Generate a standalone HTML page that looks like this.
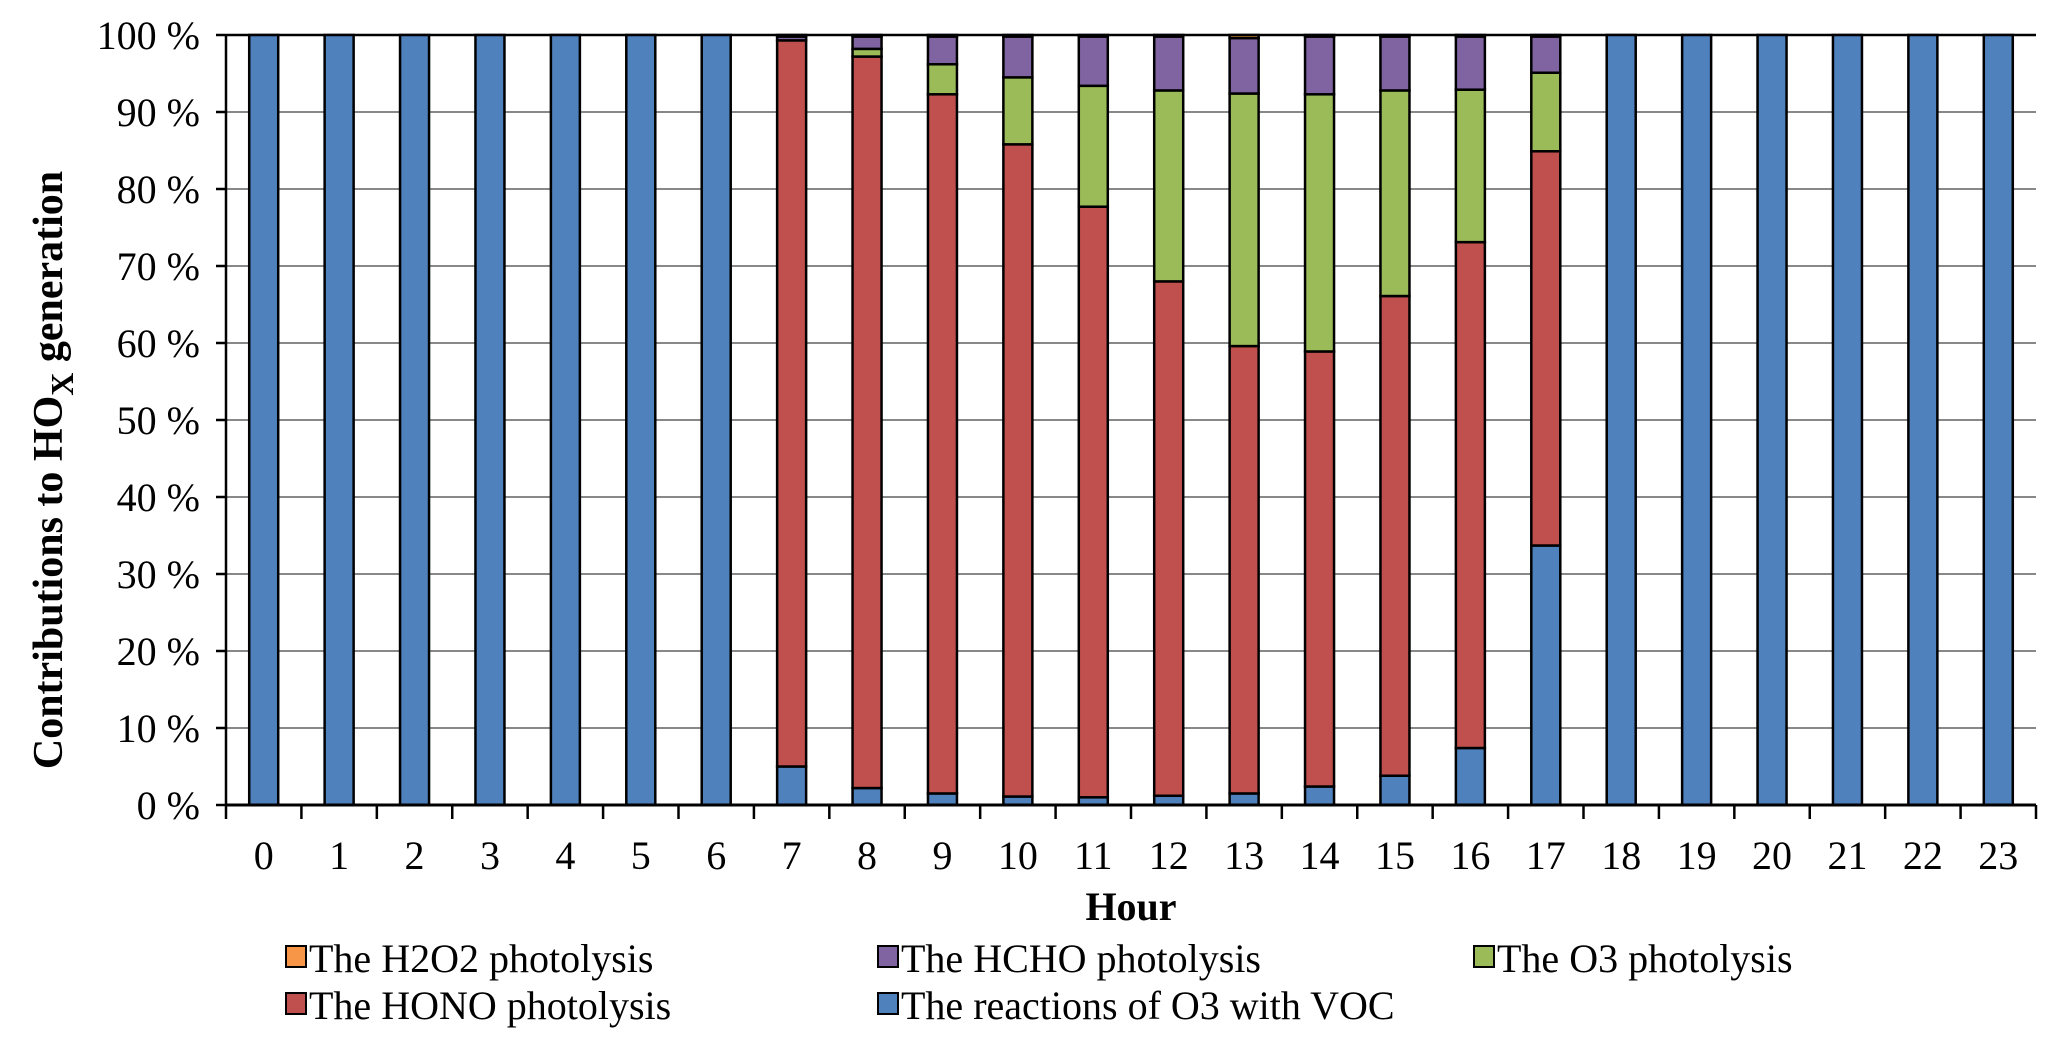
<!DOCTYPE html>
<html><head><meta charset="utf-8"><style>
html,body{margin:0;padding:0;background:#fff;}
svg{display:block;font-family:"Liberation Serif",serif;}
</style></head><body>
<svg id="chart" width="2067" height="1050" viewBox="0 0 2067 1050">
<g id="grid"></g>
<g id="bars"></g>
<g id="axes"></g>
<text transform="translate(62,470) rotate(-90)" text-anchor="middle" font-weight="bold" font-size="42">Contributions to HO<tspan font-size="32" dy="11">X</tspan><tspan dy="-11"> generation</tspan></text>
<text x="1131" y="920" text-anchor="middle" font-weight="bold" font-size="40">Hour</text>
<g font-size="40">
 <g><rect x="286" y="946" width="20" height="21" fill="#F79646" stroke="#000" stroke-width="2"/><text x="309" y="972">The H2O2 photolysis</text></g>
 <g><rect x="878" y="946" width="20" height="21" fill="#8064A2" stroke="#000" stroke-width="2"/><text x="901" y="972">The HCHO photolysis</text></g>
 <g><rect x="1474" y="946" width="20" height="21" fill="#9BBB59" stroke="#000" stroke-width="2"/><text x="1497" y="972">The O3 photolysis</text></g>
 <g><rect x="286" y="993" width="20" height="21" fill="#C0504D" stroke="#000" stroke-width="2"/><text x="309" y="1019">The HONO photolysis</text></g>
 <g><rect x="878" y="993" width="20" height="21" fill="#4F81BD" stroke="#000" stroke-width="2"/><text x="901" y="1019">The reactions of O3 with VOC</text></g>
</g>
</svg>
<script>
const hours = ["0","1","2","3","4","5","6","7","8","9","10","11","12","13","14","15","16","17","18","19","20","21","22","23"];
const yTicks = [0,10,20,30,40,50,60,70,80,90,100];
const vocO3 = [100,100,100,100,100,100,100,5,2.2,1.5,1.1,1,1.2,1.5,2.4,3.8,7.4,33.7,100,100,100,100,100,100];
const hono = [0,0,0,0,0,0,0,94.3,95,90.8,84.7,76.7,66.8,58.1,56.5,62.3,65.7,51.2,0,0,0,0,0,0];
const o3Phot = [0,0,0,0,0,0,0,0,1,3.9,8.7,15.7,24.8,32.8,33.4,26.7,19.8,10.2,0,0,0,0,0,0];
const hcho = [0,0,0,0,0,0,0,0.5,1.6,3.6,5.3,6.4,7,7.2,7.5,7,6.9,4.7,0,0,0,0,0,0];
const h2o2 = [0,0,0,0,0,0,0,0.2,0.2,0.2,0.2,0.2,0.2,0.4,0.2,0.2,0.2,0.2,0,0,0,0,0,0];
const NS='http://www.w3.org/2000/svg';
const L=226,R=2036,T=35,B=805;
const bw=(R-L)/hours.length;
const y=v=>B-(B-T)*v/100;
const x=i=>L+bw*(i+0.5);
function mk(tag,attrs,parent){const e=document.createElementNS(NS,tag);for(const k in attrs)e.setAttribute(k,attrs[k]);parent.appendChild(e);return e;}
const grid=document.getElementById('grid'),bars=document.getElementById('bars'),axes=document.getElementById('axes');
yTicks.forEach(v=>{
  const g=mk('line',{x1:L,x2:R,y1:y(v),y2:y(v),stroke:v===100?'#000':'#888','stroke-width':v===100?2.5:2},grid);
  
  
  const tk=mk('line',{x1:L-10,x2:L,y1:y(v),y2:y(v),stroke:'#000','stroke-width':2.5},axes);
  
  
  const t=mk('text',{x:200,y:y(v)+14,'text-anchor':'end','font-size':40},axes);
  t.textContent=v+' %';
  
  
});
const series=[[vocO3,'#4F81BD','voc'],[hono,'#C0504D','hono'],[o3Phot,'#9BBB59','o3'],[hcho,'#8064A2','hcho'],[h2o2,'#F79646','h2o2']];
const barW=29;
hours.forEach((h,i)=>{
  let cum=0;
  series.forEach(([arr,col,nm])=>{
    const v=arr[i]; if(v<=0) return;
    const r=mk('rect',{x:x(i)-barW/2,y:y(cum+v),width:barW,height:y(cum)-y(cum+v),fill:col,stroke:'#000','stroke-width':2.5},bars);
    
    
    cum+=v;
  });
  const t=mk('text',{x:x(i),y:869,'text-anchor':'middle','font-size':40},axes);
  t.textContent=h;
  
  
});
for(let i=0;i<=hours.length;i++){
  const tk=mk('line',{x1:L+bw*i,x2:L+bw*i,y1:B,y2:B+14,stroke:'#000','stroke-width':2.5},axes);
  
  
}
const xa=mk('line',{x1:L,x2:R,y1:B,y2:B,stroke:'#000','stroke-width':3},axes);


const ya=mk('line',{x1:L,x2:L,y1:T,y2:B,stroke:'#000','stroke-width':2.5},axes);


</script>
</body></html>
